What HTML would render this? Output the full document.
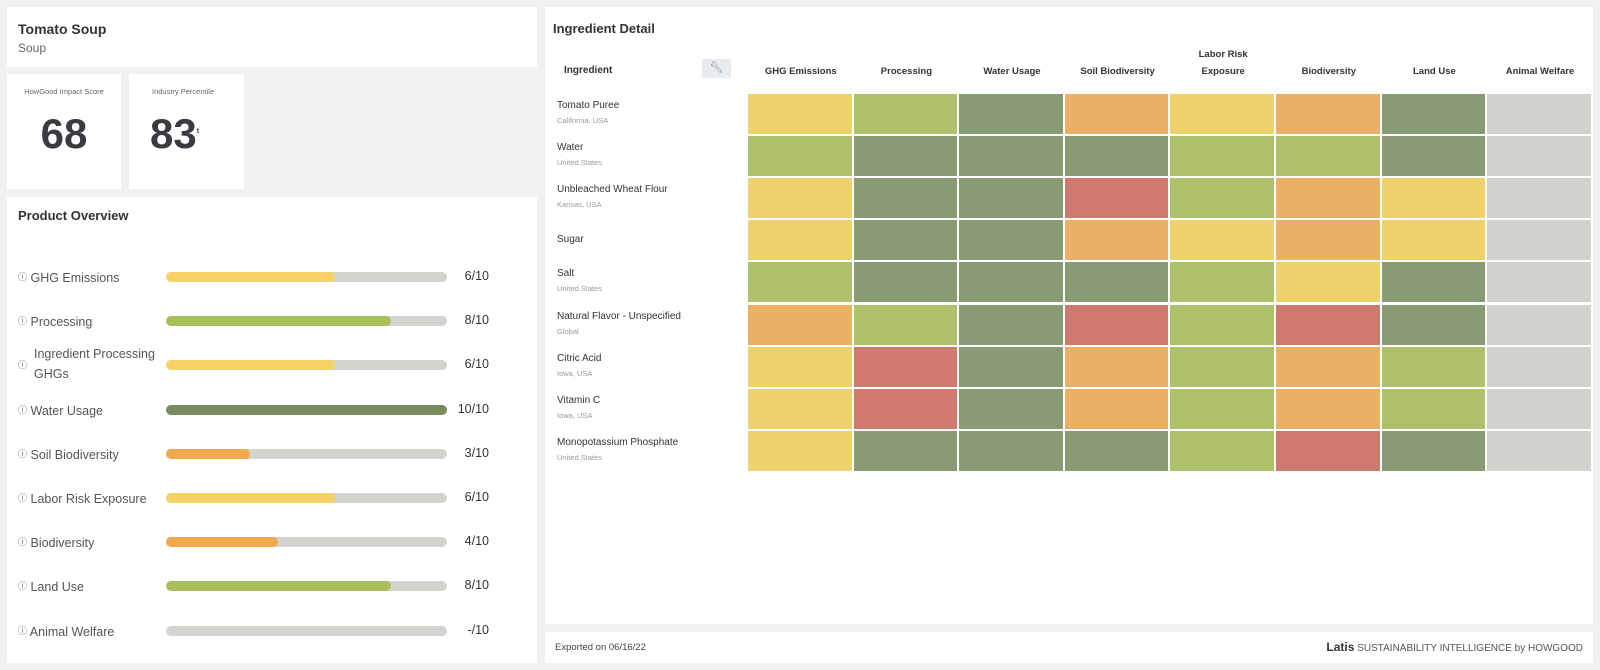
<!DOCTYPE html>
<html><head><meta charset="utf-8"><style>
body{margin:0;width:1600px;height:670px;background:#f1f1f1;font-family:"Liberation Sans",sans-serif;position:relative;overflow:hidden;color:#333}
.p{position:absolute;background:#fff}
.a{position:absolute;white-space:nowrap}
.b{font-weight:bold}
</style></head><body>
<div class="p" style="left:7px;top:7px;width:530px;height:60px">
 <div class="a b" style="left:11px;top:14px;font-size:14px">Tomato Soup</div>
 <div class="a" style="left:11px;top:34px;font-size:12px;color:#666">Soup</div>
</div>
<div class="p" style="left:7px;top:74px;width:114px;height:115px">
 <div class="a" style="left:0;width:114px;text-align:center;top:13px;font-size:7.5px;color:#666">HowGood Impact Score</div>
 <div class="a b" style="left:0;width:114px;text-align:center;top:36px;font-size:42px;color:#3a3b40">68</div>
</div>
<div class="p" style="left:129px;top:74px;width:115px;height:115px">
 <div class="a" style="left:23px;top:13px;font-size:7.5px;color:#666">Industry Percentile</div>
 <div class="a b" style="left:21px;top:36px;font-size:42px;color:#3a3b40">83<sup style="font-size:7px">t</sup></div>
</div>
<div class="p" id="ov" style="left:7px;top:197px;width:530px;height:466px">
 <div class="a b" style="left:11px;top:11px;font-size:13px">Product Overview</div>
</div>
<div class="p" id="ing" style="left:545px;top:7px;width:1048px;height:617px">
 <div class="a b" style="left:8px;top:14px;font-size:13px">Ingredient Detail</div>
 <div class="a b" style="left:19px;top:58px;font-size:10px">Ingredient</div>
 <div class="a" style="left:157px;top:52px;width:29px;height:19px;background:#e8ebef;text-align:center;font-size:11px;color:#889;line-height:19px">&#x1F527;&#xFE0E;</div>
</div>
<div class="p" style="left:545px;top:632px;width:1048px;height:31px">
 <div class="a" style="left:10px;top:10px;font-size:9.5px;color:#444">Exported on 06/16/22</div>
 <div class="a" style="right:10px;top:8px;font-size:10px;color:#555"><b style="font-size:12px;color:#333">Latis</b> SUSTAINABILITY INTELLIGENCE by HOWGOOD</div>
</div>
<script>
const metrics=["GHG Emissions","Processing","Ingredient Processing GHGs","Water Usage","Soil Biodiversity","Labor Risk Exposure","Biodiversity","Land Use","Animal Welfare"];
const scores=[6,8,6,10,3,6,4,8,null];
const columns=["GHG Emissions","Processing","Water Usage","Soil Biodiversity","Labor Risk Exposure","Biodiversity","Land Use","Animal Welfare"];
const ingredients=["Tomato Puree","Water","Unbleached Wheat Flour","Sugar","Salt","Natural Flavor - Unspecified","Citric Acid","Vitamin C","Monopotassium Phosphate"];
const origins=["California, USA","United States","Kansas, USA","","United States","Global","Iowa, USA","Iowa, USA","United States"];
const levels=[[3,4,5,2,3,2,5,0],[4,5,5,5,4,4,5,0],[3,5,5,1,4,2,3,0],[3,5,5,2,3,2,3,0],[4,5,5,5,4,3,5,0],[2,4,5,1,4,1,5,0],[3,1,5,2,4,2,4,0],[3,1,5,2,4,2,4,0],[3,5,5,5,4,1,5,0]];
const cellColors={0:"#d2d2cd",1:"#d07a6f",2:"#ecb064",3:"#edd26e",4:"#adc26a",5:"#8a9a75"};
function barColor(v){return v>=10?"#7a8b5b":v>=7?"#a8c05a":v>=5?"#f6d266":"#f0a94f";}
const ov=document.getElementById('ov');
const tx=159,tw=281,y0=80,dy=44.2;
metrics.forEach((m,i)=>{
 const cy=y0+i*dy;
 const lab=document.createElement('div');lab.className='a';
 
 
 lab.style.cssText=`left:11px;top:${cy-10}px;font-size:12.5px;color:#555;line-height:20px;white-space:normal;width:150px`;
 if(m==="Ingredient Processing GHGs"){lab.style.top=(cy-21)+'px';lab.innerHTML='<span style="position:absolute;left:0;top:11px;font-size:9px">ⓘ</span><div style="margin-left:16px">Ingredient Processing<br>GHGs</div>';}
 else lab.innerHTML='<span style="font-size:9px;vertical-align:2px">ⓘ</span> '+m;
 ov.appendChild(lab);
 const tr=document.createElement('div');tr.className='a';
 
 
 tr.style.cssText=`left:${tx}px;top:${cy-5}px;width:${tw}px;height:10px;border-radius:5px;background:#d3d3cf`;
 ov.appendChild(tr);
 if(scores[i]!=null){const f=document.createElement('div');f.className='a';
  
  
  f.style.cssText=`left:0;top:0;height:10px;border-radius:5px;width:${tw*scores[i]/10}px;background:${barColor(scores[i])}`;tr.appendChild(f);}
 const v=document.createElement('div');v.className='a';
 
 
 v.style.cssText=`right:${530-482}px;top:${cy-8}px;font-size:12.5px;color:#333`;
 v.textContent=(scores[i]==null?'-':scores[i])+'/10';ov.appendChild(v);
});
const ing=document.getElementById('ing');
const hx=203,hy=87,cw=105.6,ch=42.1;
columns.forEach((c,j)=>{
 const h=document.createElement('div');h.className='a b';
 
 
 h.style.cssText=`left:${hx+j*cw}px;width:${cw}px;text-align:center;white-space:normal;font-size:9.5px;line-height:17px;top:${c==="Labor Risk Exposure"?39:56}px`;
 h.innerHTML=c==="Labor Risk Exposure"?"Labor Risk<br>Exposure":c;ing.appendChild(h);
});
ingredients.forEach((n,i)=>{
 const y=hy+i*ch;
 const d=document.createElement('div');d.className='a';
 
 
 d.style.cssText=`left:12px;top:${y+(origins[i]?6:14)}px;font-size:10px;color:#333`;
 d.innerHTML=n+(origins[i]?`<div style="font-size:7.5px;color:#999;margin-top:5px">${origins[i]}</div>`:'');ing.appendChild(d);
 levels[i].forEach((l,j)=>{
  const c=document.createElement('div');c.className='a';
  
  
  c.style.cssText=`left:${hx+j*cw}px;top:${y}px;width:${cw-2}px;height:${ch-2}px;background:${cellColors[l]}`;
  ing.appendChild(c);
 });
});
</script>
</body></html>
